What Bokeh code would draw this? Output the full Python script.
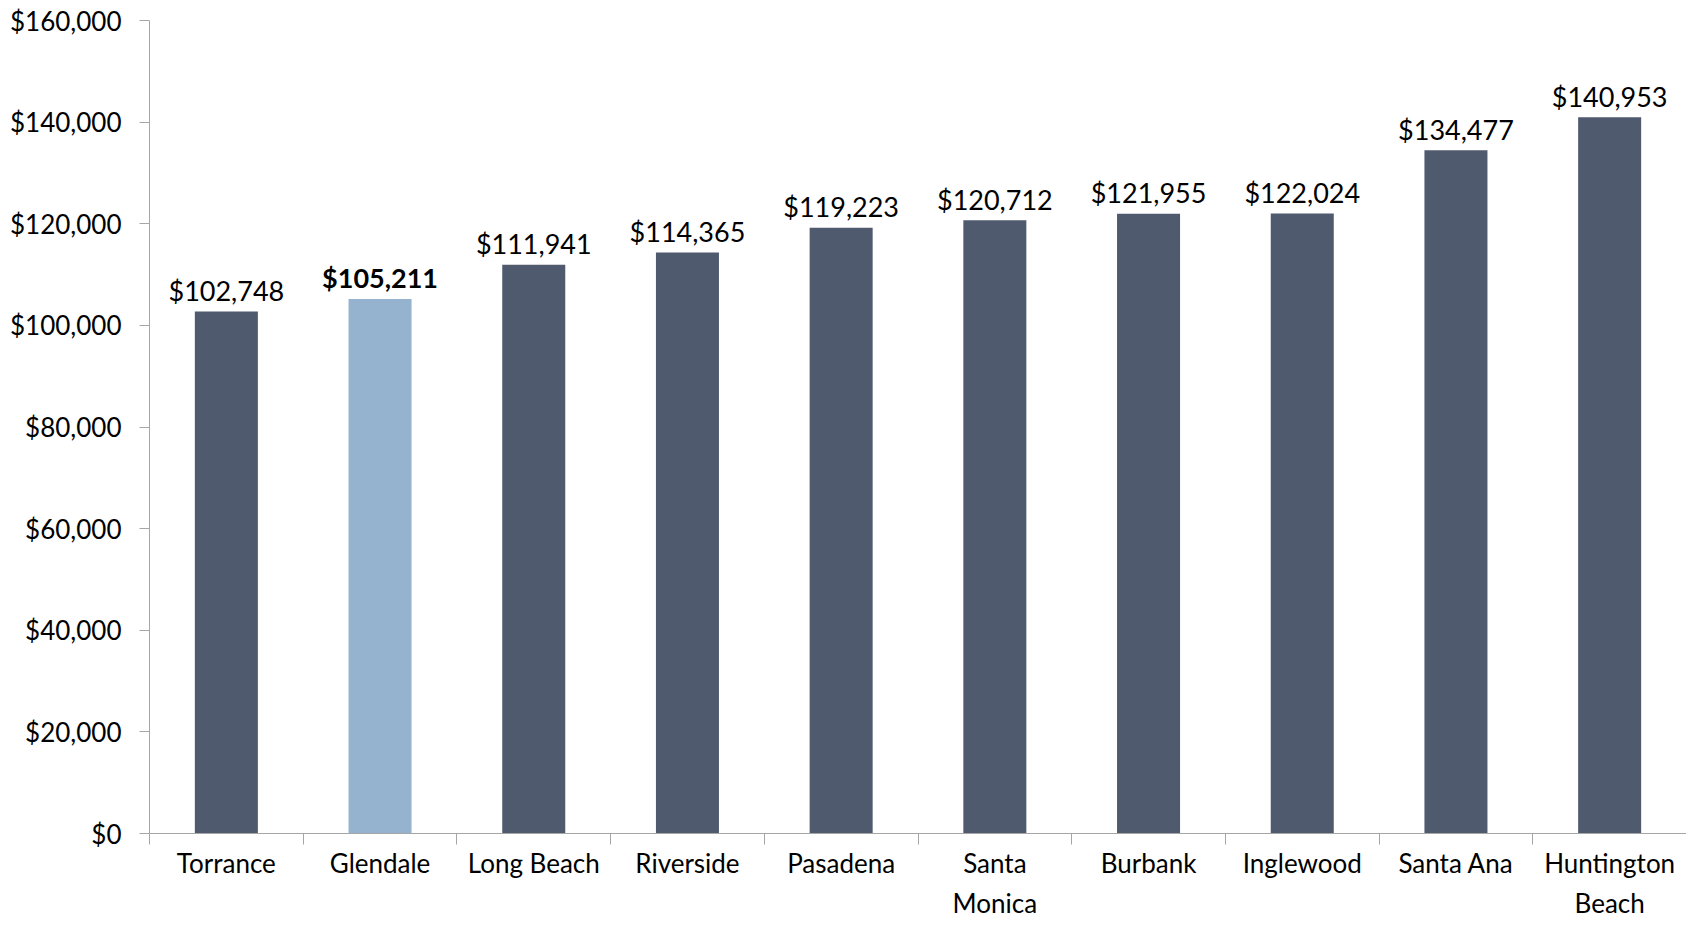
from bokeh.plotting import figure
from bokeh.models import (ColumnDataSource, Range1d, LinearAxis, FixedTicker,
                          NumeralTickFormatter)
from bokeh.core.properties import value
from bokeh.embed import file_html
from bokeh.resources import INLINE

cities = ["Torrance", "Glendale", "Long Beach", "Riverside", "Pasadena",
          "Santa\nMonica", "Burbank", "Inglewood", "Santa Ana", "Huntington\nBeach"]
incomes = [102748, 105211, 111941, 114365, 119223, 120712, 121955, 122024, 134477, 140953]
highlight = "Glendale"
y_ticks = [0, 20000, 40000, 60000, 80000, 100000, 120000, 140000, 160000]

DARK = "#4F5A6E"
LIGHT = "#95B2CF"
FONT = "Lato"

n = len(cities)
xs = [i + 0.5 for i in range(n)]
colors = [LIGHT if c == highlight else DARK for c in cities]
styles = ["bold" if c == highlight else "normal" for c in cities]
labels = ["${:,}".format(v) for v in incomes]

src = ColumnDataSource(dict(x=xs, top=incomes, color=colors, style=styles, label=labels))

p = figure(width=1686, height=921, output_backend="svg", toolbar_location=None,
           x_range=Range1d(0, n), y_range=Range1d(0, 160000),
           x_axis_type=None, y_axis_type=None,
           min_border_left=149, min_border_right=0, min_border_top=20, min_border_bottom=76)
p.outline_line_color = None
p.background_fill_color = "white"
p.border_fill_color = "white"

p.vbar(x="x", top="top", bottom=0, width=0.41, fill_color="color", line_color=None, source=src)

p.text(x="x", y="top", text="label", source=src, text_align="center",
       text_baseline="alphabetic", y_offset=-21, text_font=value(FONT),
       text_font_size="27px", text_font_style="style", text_color="#000000")

# y axis
yaxis = LinearAxis(ticker=FixedTicker(ticks=y_ticks, minor_ticks=[]),
                   formatter=NumeralTickFormatter(format="$0,0"))
yaxis.axis_line_color = "#A6A6A6"
yaxis.major_tick_line_color = "#A6A6A6"
yaxis.major_tick_out = 10
yaxis.major_tick_in = 0
yaxis.minor_tick_line_color = None
yaxis.major_label_standoff = 18
yaxis.major_label_text_font = FONT
yaxis.major_label_text_font_size = "26px"
yaxis.major_label_text_color = "#000000"
p.add_layout(yaxis, "left")

# x axis: labels at bar centres, ticks at category boundaries
xaxis = LinearAxis(ticker=FixedTicker(ticks=xs, minor_ticks=list(range(n + 1))))
xaxis.major_label_overrides = {x: c for x, c in zip(xs, cities)}
xaxis.axis_line_color = "#A6A6A6"
xaxis.major_tick_line_color = None
xaxis.major_tick_out = 0
xaxis.major_tick_in = 0
xaxis.minor_tick_line_color = "#A6A6A6"
xaxis.minor_tick_out = 11
xaxis.minor_tick_in = 0
xaxis.major_label_standoff = 2
xaxis.major_label_text_font = FONT
xaxis.major_label_text_font_size = "26px"
xaxis.major_label_text_color = "#000000"
xaxis.major_label_text_line_height = 1.25
p.add_layout(xaxis, "below")

p.xgrid.visible = False
p.ygrid.grid_line_color = "#D9D9D9"
p.ygrid.ticker = FixedTicker(ticks=y_ticks)
p.grid.grid_line_width = 1.3

open("out.html", "w").write(file_html(p, INLINE))
